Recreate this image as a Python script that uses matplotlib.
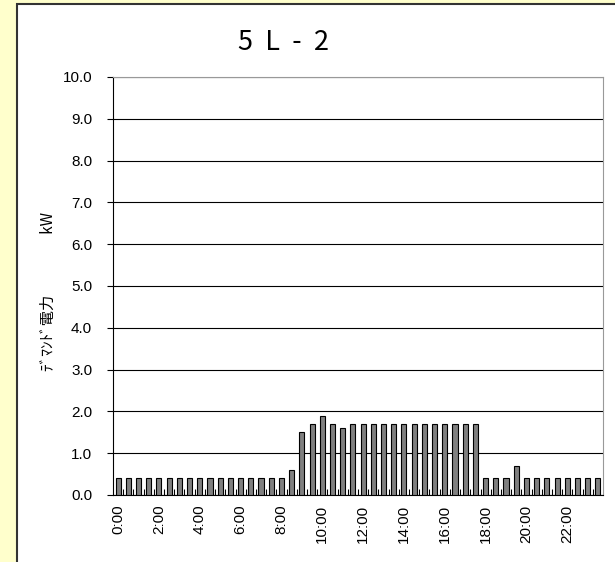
import numpy as np
import matplotlib
matplotlib.use("Agg")
import matplotlib.pyplot as plt
from matplotlib.patches import Rectangle

plt.rcParams['font.family'] = ['Liberation Sans', 'Noto Sans CJK JP', 'DejaVu Sans']

# half-hourly demand, kW
times = ["%d:%02d" % (h, m) for h in range(24) for m in (0, 30)]
demand = [0.4] * 17 + [0.6, 1.5, 1.7, 1.9, 1.7, 1.6] + [1.7] * 13 \
    + [0.4, 0.4, 0.4, 0.7] + [0.4] * 8
tick_labels = ["%d:00" % h for h in range(0, 24, 2)]

fig = plt.figure(figsize=(6.15, 5.62), dpi=100)
fig.patch.set_facecolor("#FFFFCC")
# white chart panel with dark border
panel = Rectangle((17 / 615, -0.01), 1.0, 1.01 - 4 / 562, transform=fig.transFigure,
                  facecolor="white", edgecolor="#333333", linewidth=1.5, zorder=-5)
fig.add_artist(panel)

ax = fig.add_axes([113 / 615, 67 / 562, 490 / 615, 418 / 562])
ax.set_zorder(2)
x = np.arange(len(demand))
ax.bar(x, demand, width=0.5, color="#808080", edgecolor="black", linewidth=0.8, zorder=3)

ax.set_xlim(-0.5, len(demand) - 0.5)
ax.set_ylim(0, 10)
ax.set_yticks(np.arange(0, 10.1, 1.0))
ax.set_yticklabels(["%.1f" % v for v in np.arange(0, 10.1, 1.0)], fontsize=11)
ax.yaxis.grid(True, color="black", linewidth=0.8, zorder=0)
ax.set_axisbelow(True)
ax.tick_params(axis="y", direction="out", length=4, width=0.8, pad=11)

ax.set_xticks(x[::4])
ax.set_xticklabels(tick_labels, rotation=90, fontsize=11)
ax.tick_params(axis="x", length=0, pad=7)
ax.set_xticks(x[:-1] + 0.5, minor=True)
ax.tick_params(axis="x", which="minor", direction="in", length=4, width=0.8)

for side in ("top", "right"):
    ax.spines[side].set_color("#999999")
ax.spines["left"].set_color("black")
ax.spines["bottom"].set_color("black")

ax.set_ylabel("ﾃﾞﾏﾝﾄﾞ電力　　　　kW", fontsize=11,
              family=['Noto Sans CJK JP', 'DejaVu Sans'])
ax.yaxis.set_label_coords(-0.115, 0.486)

fig.text(284 / 615, 1 - 42 / 562, "5  L  -  2", fontsize=19.5, ha="center", va="center",
         family=['Noto Sans CJK JP', 'DejaVu Sans'])

fig.savefig("out.png", dpi=100, facecolor=fig.get_facecolor())
